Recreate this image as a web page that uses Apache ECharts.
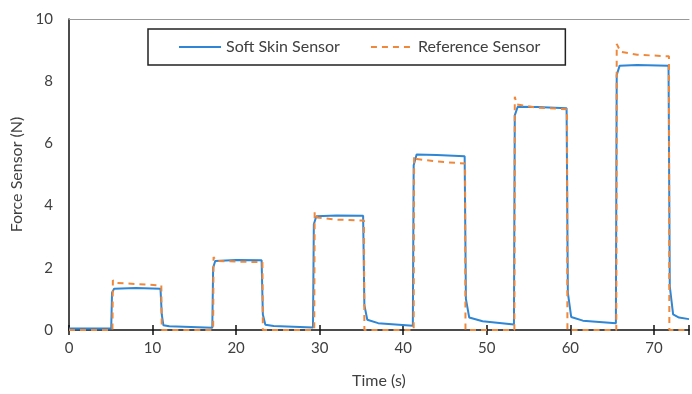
<!DOCTYPE html>
<html><head><meta charset="utf-8">
<script src="https://cdn.jsdelivr.net/npm/echarts@6/dist/echarts.min.js"></script>
<style>html,body{margin:0;padding:0;background:#fff}#c{width:692px;height:394px}</style>
</head><body><div id="c"></div>
<script>
// Soft Skin Sensor (blue, solid)
const softTime = [0, 5.05, 5.15, 5.4, 8, 10.95, 11.1, 11.3, 12, 17.15, 17.25, 17.5, 20, 23.05, 23.2, 23.5, 24.5, 29.2, 29.3, 29.6, 32, 35.2, 35.35, 35.7, 37, 41.15, 41.25, 41.6, 44, 47.35, 47.5, 47.9, 49.5, 53.25, 53.35, 53.7, 56, 59.55, 59.7, 60.1, 61.5, 65.45, 65.55, 65.9, 68, 71.75, 71.9, 72.3, 73, 74.2];
const softForce = [0.05, 0.05, 1.2, 1.33, 1.35, 1.33, 0.5, 0.15, 0.12, 0.07, 2.0, 2.22, 2.25, 2.24, 0.5, 0.17, 0.13, 0.08, 3.4, 3.66, 3.68, 3.67, 0.8, 0.33, 0.22, 0.14, 5.3, 5.64, 5.63, 5.59, 1.0, 0.4, 0.28, 0.18, 6.9, 7.18, 7.17, 7.13, 1.2, 0.42, 0.3, 0.22, 8.2, 8.5, 8.52, 8.5, 1.4, 0.5, 0.4, 0.35];
// Reference Sensor (orange, dashed)
const refTime = [0, 5.2, 5.25, 5.5, 8, 11.05, 11.1, 17.25, 17.3, 17.6, 20, 23.15, 23.2, 29.35, 29.4, 29.7, 32, 35.3, 35.35, 41.25, 41.3, 41.6, 44, 47.4, 47.45, 53.3, 53.35, 53.6, 56, 59.6, 59.65, 65.5, 65.55, 66.0, 68, 71.8, 71.85, 74.2];
const refForce = [0, 0, 1.6, 1.52, 1.48, 1.43, 0, 0, 2.35, 2.22, 2.2, 2.18, 0, 0, 3.8, 3.62, 3.55, 3.52, 0, 0, 5.6, 5.5, 5.42, 5.35, 0, 0, 7.5, 7.25, 7.15, 7.1, 0, 0, 9.2, 8.95, 8.85, 8.8, 0, 0];
const xTicks = [0, 10, 20, 30, 40, 50, 60, 70];
const yTicks = [0, 2, 4, 6, 8, 10];

const seriesNames = ['Soft Skin Sensor', 'Reference Sensor'];
const font = 'Lato, "Open Sans", sans-serif';
const txt = '#404040';
const xMin = 0, xMax = 74.2;

const chart = echarts.init(document.getElementById('c'), null, {renderer: 'canvas'});
const zip = (a, b) => a.map((t, i) => [t, b[i]]);
const baseX = {
  type: 'value', min: xMin, max: xMax, interval: 10,
  splitLine: {show: false}
};
chart.setOption({
  animation: false,
  backgroundColor: '#fff',
  textStyle: {fontFamily: font},
  grid: {left: 69, top: 19, right: 0, bottom: 59, containLabel: false},
  legend: {
    left: 148, top: 29,
    data: seriesNames,
    itemWidth: 42, itemHeight: 14, itemGap: 30,
    padding: [10, 25, 10, 30],
    borderColor: '#222', borderWidth: 1.5,
    itemStyle: {opacity: 0},
    textStyle: {fontFamily: font, fontSize: 16, color: txt}
  },
  xAxis: [
    Object.assign({}, baseX, {
      position: 'bottom',
      name: 'Time (s)', nameLocation: 'middle', nameGap: 43,
      nameTextStyle: {fontFamily: font, fontSize: 16, color: txt},
      axisLine: {show: true, lineStyle: {color: '#111', width: 1.5}},
      axisTick: {show: true, inside: false, length: 5, lineStyle: {color: '#111', width: 1.5}},
      axisLabel: {fontFamily: font, fontSize: 15, color: txt, margin: 11,
        formatter: v => xTicks.includes(v) ? String(v) : ''}
    }),
    Object.assign({}, baseX, {
      position: 'bottom',
      axisLine: {show: false},
      axisTick: {show: true, inside: true, length: 5, lineStyle: {color: '#111', width: 1.5}},
      axisLabel: {show: false}
    }),
    Object.assign({}, baseX, {
      position: 'top',
      axisLine: {show: true, lineStyle: {color: '#999', width: 1}},
      axisTick: {show: false},
      axisLabel: {show: false}
    })
  ],
  yAxis: {
    type: 'value', min: 0, max: 10, interval: 2,
    name: 'Force Sensor (N)', nameLocation: 'middle', nameGap: 38, nameRotate: 90,
    nameTextStyle: {fontFamily: font, fontSize: 16, color: txt},
    axisLine: {show: true, lineStyle: {color: '#111', width: 1.5}},
    axisTick: {show: false},
    splitLine: {show: false},
    axisLabel: {fontFamily: font, fontSize: 15, color: txt, margin: 16,
      formatter: v => yTicks.includes(v) ? String(v) : ''}
  },
  series: [
    {
      name: seriesNames[0], type: 'line', xAxisIndex: 0,
      data: zip(softTime, softForce),
      symbol: 'none', smooth: false, z: 3,
      lineStyle: {color: '#2e86d4', width: 2},
      itemStyle: {color: '#2e86d4'}
    },
    {
      name: seriesNames[1], type: 'line', xAxisIndex: 0,
      data: zip(refTime, refForce),
      symbol: 'none', smooth: false, z: 4,
      lineStyle: {color: '#f0883c', width: 2, type: [6, 5]},
      itemStyle: {color: '#f0883c'}
    }
  ]
});
</script></body></html>
